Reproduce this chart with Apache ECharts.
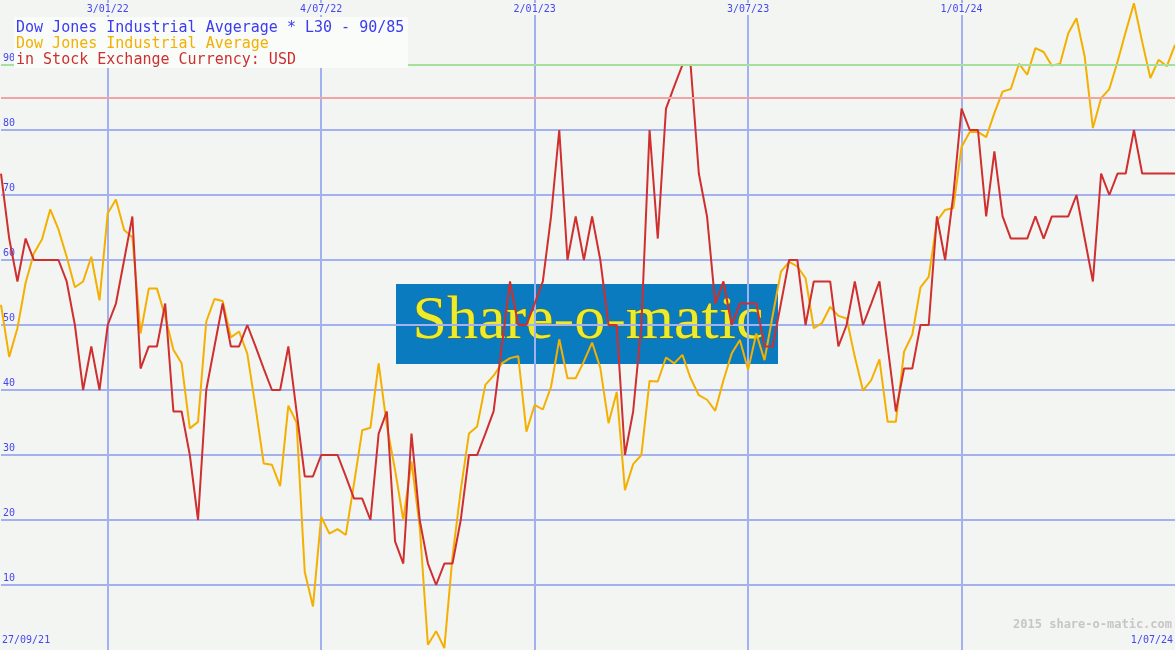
<!DOCTYPE html>
<html>
<head>
<meta charset="utf-8">
<script src="https://cdn.jsdelivr.net/npm/echarts@6/dist/echarts.min.js"></script>
<style>
html,body{margin:0;padding:0;background:#f3f5f2;}
#chart{width:1175px;height:650px;}
</style>
</head>
<body>
<div id="chart"></div>
<script>
// ---- data ----
const firstWeek = '2021-10-04';
const weekCount = 144;
const topTickLabels = ['3/01/22', '4/07/22', '2/01/23', '3/07/23', '1/01/24'];
const cornerLabels = ['27/09/21', '1/07/24'];
const titleLines = [
  'Dow Jones Industrial Avgerage * L30 - 90/85',
  'Dow Jones Industrial Average',
  'in Stock Exchange Currency: USD'
];
const seriesNames = ['Dow Jones Industrial Average', 'L30'];
const thresholds = [90, 85];

// L30 indicator (red)
const l30 = [
  73.3, 63.3, 56.7, 63.3, 60, 60, 60, 60, 56.7, 50,
  40, 46.7, 40, 50, 53.3, 60, 66.7, 43.3, 46.7, 46.7,
  53.3, 36.7, 36.7, 30, 20, 40, 46.7, 53.3, 46.7, 46.7,
  50, 46.7, 43.3, 40, 40, 46.7, 36.7, 26.7, 26.7, 30,
  30, 30, 26.7, 23.3, 23.3, 20, 33.3, 36.7, 16.7, 13.3,
  33.3, 20, 13.3, 10, 13.3, 13.3, 20, 30, 30, 33.3,
  36.7, 46.7, 56.7, 50, 50, 53.3, 56.7, 66.7, 80, 60,
  66.7, 60, 66.7, 60, 50, 50, 30, 36.7, 50, 80,
  63.3, 83.3, 86.7, 90, 90, 73.3, 66.7, 53.3, 56.7, 50,
  53.3, 53.3, 53.3, 46.7, 46.7, 53.3, 60, 60, 50, 56.7,
  56.7, 56.7, 46.7, 50, 56.7, 50, 53.3, 56.7, 46.7, 36.7,
  43.3, 43.3, 50, 50, 66.7, 60, 70, 83.3, 80, 80,
  66.7, 76.7, 66.7, 63.3, 63.3, 63.3, 66.7, 63.3, 66.7, 66.7,
  66.7, 70, 63.3, 56.7, 73.3, 70, 73.3, 73.3, 80, 73.3,
  73.3, 73.3, 73.3, 73.3
];

// Dow Jones Industrial Average, scaled to chart (orange)
const djia = [
  53.1, 45.1, 49.5, 56.5, 61, 63.2, 67.8, 64.7, 60.5, 55.8,
  56.7, 60.5, 53.8, 67.2, 69.3, 64.6, 63.5, 48.7, 55.6, 55.6,
  51.3, 46.2, 44.1, 34.1, 35.1, 50.5, 54, 53.7, 48.1, 49,
  45.6, 37.4, 28.7, 28.5, 25.2, 37.6, 35, 12, 6.7, 20.5,
  17.9, 18.6, 17.7, 25.6, 33.8, 34.2, 44.1, 34.5, 27.7, 20,
  29, 19, 0.8, 2.9, 0.3, 14.4, 24.6, 33.3, 34.4, 40.8,
  42.2, 44.1, 44.9, 45.2, 33.6, 37.7, 37, 40.5, 47.8, 41.8,
  41.8, 44.4, 47.3, 43.4, 34.9, 39.7, 24.6, 28.6, 30, 41.4,
  41.3, 45, 44.1, 45.4, 41.8, 39.2, 38.5, 36.8, 41.5, 45.6,
  47.7, 43.1, 48.7, 44.6, 51.5, 58.2, 59.7, 59, 57.2, 49.5,
  50.3, 52.8, 51.4, 51, 45.1, 39.9, 41.5, 44.7, 35.1, 35.1,
  45.9, 48.5, 55.8, 57.4, 66, 67.7, 68, 77.4, 79.7, 79.7,
  78.9, 82.6, 85.9, 86.3, 90.2, 88.5, 92.6, 92, 89.9, 90.2,
  94.9, 97.2, 91.3, 80.3, 84.9, 86.3, 90.5, 95.1, 99.5, 93.6,
  88, 90.8, 89.8, 93.1
];

// weekly category labels (D/MM/YY)
const categories = [];
(function () {
  const d0 = new Date(firstWeek + 'T00:00:00Z');
  for (let i = 0; i < weekCount; i++) {
    const d = new Date(d0.getTime() + i * 7 * 86400000);
    const dd = d.getUTCDate();
    const mm = String(d.getUTCMonth() + 1).padStart(2, '0');
    const yy = String(d.getUTCFullYear() % 100).padStart(2, '0');
    categories.push(dd + '/' + mm + '/' + yy);
  }
})();

// ---- styles ----
const BG = '#f3f5f2';
const GRID = '#a3b1f1';
const LABEL = '#4646ee';
const RED = '#cf2f2f';
const ORANGE = '#f4b000';
const MONO = '"DejaVu Sans Mono", monospace';

const isTick = (i, v) => topTickLabels.indexOf(v) >= 0;
const hColors = ['rgba(0,0,0,0)'];
for (let k = 0; k < 9; k++) hColors.push(GRID);
hColors.push('rgba(0,0,0,0)');

const chart = echarts.init(document.getElementById('chart'), null, {renderer: 'canvas'});
chart.setOption({
  backgroundColor: BG,
  animation: false,
  grid: {left: 0, right: 0, top: 0, bottom: 0, containLabel: false},
  xAxis: {
    type: 'category',
    data: categories,
    boundaryGap: false,
    position: 'top',
    axisLine: {show: false},
    axisTick: {show: false},
    axisLabel: {
      inside: true,
      interval: isTick,
      margin: 3,
      color: LABEL,
      fontFamily: MONO,
      fontSize: 10,
      backgroundColor: BG,
      padding: [1, 1, 1, 1]
    },
    splitLine: {show: true, interval: isTick, lineStyle: {color: GRID, width: 2}}
  },
  yAxis: {
    type: 'value',
    min: 0,
    max: 100,
    interval: 10,
    axisLine: {show: false},
    axisTick: {show: false},
    axisLabel: {
      inside: true,
      margin: 2,
      verticalAlign: 'bottom',
      padding: [0, 0, 2, 0],
      color: LABEL,
      fontFamily: MONO,
      fontSize: 10,
      formatter: v => (v > 0 && v < 100) ? String(v) : ''
    },
    splitLine: {show: true, lineStyle: {color: hColors, width: 2}}
  },
  series: [
    {
      name: seriesNames[0],
      type: 'line',
      data: djia,
      symbol: 'none',
      smooth: false,
      lineStyle: {color: ORANGE, width: 2},
      itemStyle: {color: ORANGE},
      z: 3,
      markLine: {
        silent: true,
        symbol: 'none',
        label: {show: false},
        animation: false,
        data: [
          {yAxis: thresholds[0], lineStyle: {color: '#a6e09c', width: 2, type: 'solid'}},
          {yAxis: thresholds[1], lineStyle: {color: '#f2a3a3', width: 2, type: 'solid'}}
        ]
      }
    },
    {
      name: seriesNames[1],
      type: 'line',
      data: l30,
      symbol: 'none',
      smooth: false,
      lineStyle: {color: RED, width: 2},
      itemStyle: {color: RED},
      z: 4
    }
  ],
  graphic: [
    {
      type: 'rect', z: -10, silent: true,
      shape: {x: 396, y: 284, width: 382, height: 80},
      style: {fill: '#0b7bbf'}
    },
    {
      type: 'text', z: -9, silent: true,
      x: 588, y: 322,
      style: {
        text: 'Share-o-matic',
        font: '62px "Liberation Serif", "DejaVu Serif", serif',
        align: 'center', verticalAlign: 'middle',
        fill: '#ecec2c',
        stroke: '#5a6a3a', lineWidth: 1,
        shadowColor: 'rgba(0,20,40,0.8)', shadowBlur: 3, shadowOffsetX: 2, shadowOffsetY: 3
      }
    },
    {
      type: 'rect', z: 50, silent: true,
      shape: {x: 14, y: 17, width: 394, height: 51},
      style: {fill: '#fafcfa'}
    },
    {
      type: 'text', z: 51, silent: true, x: 16, y: 28,
      style: {text: titleLines[0], font: '15px ' + MONO, fill: '#3c3cee', verticalAlign: 'middle'}
    },
    {
      type: 'text', z: 51, silent: true, x: 16, y: 44,
      style: {text: titleLines[1], font: '15px ' + MONO, fill: '#f2b000', verticalAlign: 'middle'}
    },
    {
      type: 'text', z: 51, silent: true, x: 16, y: 60,
      style: {text: titleLines[2], font: '15px ' + MONO, fill: '#cc3030', verticalAlign: 'middle'}
    },
    {
      type: 'text', z: 51, silent: true, x: 2, y: 640,
      style: {text: cornerLabels[0], font: '10px ' + MONO, fill: LABEL, verticalAlign: 'middle'}
    },
    {
      type: 'text', z: 51, silent: true, x: 1173, y: 640,
      style: {text: cornerLabels[1], font: '10px ' + MONO, fill: LABEL, align: 'right', verticalAlign: 'middle'}
    },
    {
      type: 'text', z: 51, silent: true, x: 1172, y: 625,
      style: {text: '2015 share-o-matic.com', font: 'bold 12px ' + MONO, fill: '#c6c6c6', align: 'right', verticalAlign: 'middle'}
    }
  ]
});
</script>
</body>
</html>
